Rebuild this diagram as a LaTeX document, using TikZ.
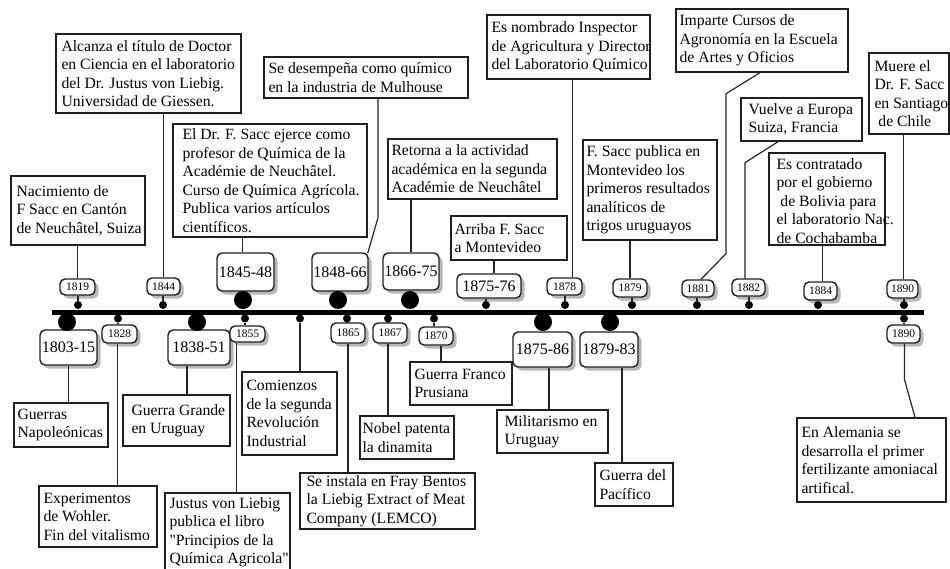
\documentclass[tikz,border=0pt]{standalone}
\usepackage{fontspec}
\setmainfont{Liberation Serif}[Ligatures=TeXOff]
\usetikzlibrary{shadows}
\begin{document}
\begin{tikzpicture}[x=1pt,y=-1pt,
  boxat/.code n args={4}{%
    \pgfmathsetmacro\bw{#3-#1}\pgfmathsetmacro\bh{#4-#2}%
    \pgfmathsetmacro\cx{(#1+#3)/2}\pgfmathsetmacro\cy{(#2+#4)/2}%
    \edef\tmpbox{\noexpand\tikzset{minimum width=\bw pt,minimum height=\bh pt,at={(\cx,\cy)}}}\tmpbox},
  ebox/.style={draw=black!88, line width=1.4pt, fill=white, inner sep=0pt},
  etext/.style={inner sep=0pt, align=left, anchor=west, font=\fontsize{15.7}{18.5}\selectfont, text=black},
  ylab/.style={draw=black!88, line width=1.4pt, fill=white, rounded corners=5pt, inner sep=0pt,
    drop shadow={shadow xshift=3.5pt,shadow yshift=-3.5pt,fill=black!28,opacity=1}},
  ybig/.style={ylab, font=\fontsize{16}{18}\selectfont},
  ysmall/.style={ylab, font=\fontsize{11.5}{13}\selectfont},
  conn/.style={draw=black!85, line width=1.2pt},
  bdot/.style={circle, fill=black, inner sep=0pt, minimum size=18pt},
  sdot/.style={circle, fill=black, inner sep=0pt, minimum size=8pt},
]
\useasboundingbox (0,0) rectangle (950,568);

% axis
\coordinate (axL) at (52,312);
\coordinate (axR) at (924,312);
\draw[line width=5pt, black] (axL) -- (axR);

% ---------- top boxes ----------
\node[ebox, boxat={56}{34}{241}{113}] (t1) {};
\node[etext] (t1x) at ([xshift=6pt]t1.west) {Alcanza el título de Doctor\\en Ciencia en el laboratorio\\del Dr. Justus von Liebig.\\Universidad de Giessen.};
\node[ebox, boxat={11}{176}{145}{245}] (t2) {};
\node[etext] (t2x) at ([xshift=6pt]t2.west) {Nacimiento de\\F Sacc en Cantón\\de Neuchâtel, Suiza};
\node[ebox, boxat={173}{124}{367}{237}] (t3) {};
\node[etext] (t3x) at ([xshift=10pt]t3.west) {El Dr. F. Sacc ejerce como\\profesor de Química de la\\Académie de Neuchâtel.\\Curso de Química Agrícola.\\Publica varios artículos\\científicos.};
\node[ebox, boxat={264}{57}{468}{98}] (t4) {};
\node[etext] (t4x) at ([xshift=5pt]t4.west) {Se desempeña como químico\\en la industria de Mulhouse};
\node[ebox, boxat={388}{139}{557}{199}] (t5) {};
\node[etext] (t5x) at ([xshift=4pt]t5.west) {Retorna a la actividad\\académica en la segunda\\Académie de Neuchâtel};
\node[ebox, boxat={451}{216}{567}{260}] (t6) {};
\node[etext] (t6x) at ([xshift=4pt]t6.west) {Arriba F. Sacc\\a Montevideo};
\node[ebox, boxat={487}{15}{650}{79}] (t7) {};
\node[etext] (t7x) at ([xshift=5pt]t7.west) {Es nombrado Inspector\\de Agricultura y Director\\del Laboratorio Químico};
\node[ebox, boxat={583}{140}{717}{240}] (t8) {};
\node[etext] (t8x) at ([xshift=4pt]t8.west) {F. Sacc publica en\\Montevideo los\\primeros resultados\\analíticos de\\trigos uruguayos};
\node[ebox, boxat={676}{9}{848}{72}] (t9) {};
\node[etext] (t9x) at ([xshift=4pt]t9.west) {Imparte Cursos de\\Agronomía en la Escuela\\de Artes y Oficios};
\node[ebox, boxat={741}{98}{862}{141}] (t10) {};
\node[etext] (t10x) at ([xshift=8pt]t10.west) {Vuelve a Europa\\Suiza, Francia};
\node[ebox, boxat={769}{153}{885}{245}] (t11) {};
\node[etext] (t11x) at ([xshift=8pt,yshift=-2pt]t11.west) {Es contratado\\por el gobierno\\\ de Bolivia para\\el laboratorio Nac.\\de Cochabamba};
\node[ebox, boxat={869}{53}{949}{134}] (t12) {};
\node[etext] (t12x) at ([xshift=6pt]t12.west) {Muere el\\Dr. F. Sacc\\en Santiago\\\ de Chile};

% ---------- bottom boxes ----------
\node[ebox, boxat={14}{403}{108}{447}] (b1) {};
\node[etext] (b1x) at ([xshift=4pt]b1.west) {Guerras\\Napoleónicas};
\node[ebox, boxat={39}{486}{157}{547}] (b2) {};
\node[etext] (b2x) at ([xshift=5pt]b2.west) {Experimentos\\de Wohler.\\Fin del vitalismo};
\node[ebox, boxat={123}{395}{230}{446}] (b3) {};
\node[etext] (b3x) at ([xshift=9pt]b3.west) {Guerra Grande\\en Uruguay};
\node[ebox, boxat={165}{493}{290}{571}] (b4) {};
\node[etext] (b4x) at ([xshift=5pt]b4.west) {Justus von Liebig\\publica el libro\\"Principios de la\\Química Agricola"};
\node[ebox, boxat={242}{372}{337}{455}] (b5) {};
\node[etext] (b5x) at ([xshift=5pt]b5.west) {Comienzos\\de la segunda\\Revolución\\Industrial};
\node[ebox, boxat={300}{473}{475}{529}] (b6) {};
\node[etext] (b6x) at ([xshift=7pt]b6.west) {Se instala en Fray Bentos\\la Liebig Extract of Meat\\Company (LEMCO)};
\node[ebox, boxat={360}{416}{454}{459}] (b7) {};
\node[etext] (b7x) at ([xshift=3pt]b7.west) {Nobel patenta\\la dinamita};
\node[ebox, boxat={410}{362}{512}{405}] (b8) {};
\node[etext] (b8x) at ([xshift=5pt]b8.west) {Guerra Franco\\Prusiana};
\node[ebox, boxat={497}{410}{608}{453}] (b9) {};
\node[etext] (b9x) at ([xshift=8pt]b9.west) {Militarismo en\\Uruguay};
\node[ebox, boxat={595}{463}{673}{506}] (b10) {};
\node[etext] (b10x) at ([xshift=5pt]b10.west) {Guerra del\\Pacífico};
\node[ebox, boxat={797}{418}{946}{502}] (b11) {};
\node[etext] (b11x) at ([xshift=5pt]b11.west) {En Alemania se\\desarrolla el primer\\fertilizante amoniacal\\artifical.};

% ---------- top year labels ----------
\node[ysmall, boxat={60}{279}{95}{295}] (l1819) {1819};
\node[ysmall, boxat={147}{278}{180}{295}] (l1844) {1844};
\node[ybig, boxat={217}{253}{274}{291}] (l1845) {1845-48};
\node[ybig, boxat={312}{253}{368}{291}] (l1848) {1848-66};
\node[ybig, boxat={383}{253}{439}{290}] (l1866) {1866-75};
\node[ybig, boxat={457}{274}{521}{298}] (l1875) {1875-76};
\node[ysmall, boxat={547}{278}{582}{295}] (l1878) {1878};
\node[ysmall, boxat={613}{279}{647}{297}] (l1879) {1879};
\node[ysmall, boxat={682}{280}{714}{297}] (l1881) {1881};
\node[ysmall, boxat={732}{279}{765}{296}] (l1882) {1882};
\node[ysmall, boxat={804}{282}{837}{300}] (l1884) {1884};
\node[ysmall, boxat={887}{280}{918}{298}] (l1890a) {1890};

% ---------- bottom year labels ----------
\node[ybig, boxat={40}{330}{97}{365}] (l1803) {1803-15};
\node[ysmall, boxat={102}{325}{137}{343}] (l1828) {1828};
\node[ybig, boxat={168}{330}{230}{365}] (l1838) {1838-51};
\node[ysmall, boxat={230}{326}{265}{342}] (l1855) {1855};
\node[ysmall, boxat={331}{323}{365}{343}] (l1865) {1865};
\node[ysmall, boxat={373}{323}{407}{343}] (l1867) {1867};
\node[ysmall, boxat={419}{327}{453}{345}] (l1870) {1870};
\node[ybig, boxat={513}{332}{572}{367}] (l1875b) {1875-86};
\node[ybig, boxat={580}{332}{638}{367}] (l1879b) {1879-83};
\node[ysmall, boxat={887}{325}{920}{343}] (l1890b) {1890};

% ---------- dots ----------
\node[sdot] (d1819) at (78,305) {};
\node[sdot] (d1844) at (163,305) {};
\node[bdot] (d1845) at (243,300) {};
\node[bdot] (d1848) at (338,300) {};
\node[bdot] (d1866) at (410,300) {};
\node[sdot] (d1875) at (486,305) {};
\node[sdot] (d1878) at (565,305) {};
\node[sdot] (d1879) at (632,305) {};
\node[sdot] (d1881) at (697,305) {};
\node[sdot] (d1882) at (749,305) {};
\node[sdot] (d1884) at (818,305) {};
\node[sdot] (d1890a) at (904,305) {};

\node[bdot] (d1803) at (67,322) {};
\node[sdot] (d1828) at (118,318.5) {};
\node[bdot] (d1838) at (197,322) {};
\node[sdot] (d1855) at (245,318.5) {};
\node[sdot] (d1860) at (300,318.5) {};
\node[sdot] (d1865) at (347,318.5) {};
\node[sdot] (d1867) at (388,318.5) {};
\node[sdot] (d1870) at (434,318.5) {};
\node[bdot] (d1875b) at (543,322) {};
\node[bdot] (d1879b) at (610,322) {};
\node[sdot] (d1890b) at (904,318.5) {};

% ---------- stems ----------
\foreach \d/\l in {d1819/l1819, d1844/l1844, d1875/l1875, d1878/l1878, d1879/l1879, d1881/l1881, d1882/l1882, d1884/l1884, d1890a/l1890a}
  \draw[conn] (\d |- \l.south) -- (\d);
\foreach \d/\l in {d1828/l1828, d1855/l1855, d1865/l1865, d1867/l1867, d1870/l1870, d1890b/l1890b}
  \draw[conn] (\d) -- (\d |- \l.north);

% ---------- top connectors ----------
\draw[conn] (t2.south -| l1819.north) -- (l1819.north);
\draw[conn] (t1.south -| l1844.north) -- (l1844.north);
\draw[conn] ([xshift=-3pt]t3.south -| l1845.north) -- ([xshift=-3pt]l1845.north);
\draw[conn] ([xshift=12pt]t4.south) -- ++(0,119) -- ([xshift=-1pt,yshift=-1pt]l1848.north east);
\draw[conn] (t5.south -| l1866.north) -- (l1866.north);
\draw[conn] ([xshift=5pt]l1875.north) -- ([xshift=5pt]l1875.north |- t6.south);
\draw[conn] ([xshift=8pt]l1878.north) -- ([xshift=8pt]l1878.north |- t7.south);
\draw[conn] (t8.south -| l1879.north) -- (l1879.north);
\draw[conn] ([xshift=-2pt]t9.south) -- ++(-34,21) -- ++(0,160) -- ([xshift=3pt]l1881.north);
\draw[conn] ([xshift=-23.5pt]t10.south) -- ++(-33,21) -- ([xshift=-3.5pt]l1882.north);
\draw[conn] ([xshift=2pt]t11.south -| l1884.north) -- ([xshift=2pt]l1884.north);
\draw[conn] ([xshift=1pt]t12.south -| l1890a.north) -- ([xshift=1pt]l1890a.north);

% ---------- bottom connectors ----------
\draw[conn] (l1803.south) -- (l1803.south |- b1.north);
\draw[conn] ([xshift=-2pt]l1828.south) -- ([xshift=-2pt]l1828.south |- b2.north);
\draw[conn] ([xshift=-12pt]l1838.south) -- ([xshift=-12pt]l1838.south |- b3.north);
\draw[conn] ([xshift=-11pt]l1855.south) -- ([xshift=-11pt]l1855.south |- b4.north);
\draw[conn] (d1860) -- (d1860 |- b5.north);
\draw[conn] (l1865.south) -- (l1865.south |- b6.north);
\draw[conn] ([xshift=-2pt]l1867.south) -- ([xshift=-2pt]l1867.south |- b7.north);
\draw[conn] ([xshift=5pt]l1870.south) -- ([xshift=5pt]l1870.south |- b8.north);
\draw[conn] ([xshift=6.5pt]l1875b.south) -- ([xshift=6.5pt]l1875b.south |- b9.north);
\draw[conn] ([xshift=13pt]l1879b.south) -- ([xshift=13pt]l1879b.south |- b10.north);
\draw[conn] ([xshift=1pt]l1890b.south) -- ++(0,36) -- ([xshift=43.5pt]b11.north);
\end{tikzpicture}
\end{document}
